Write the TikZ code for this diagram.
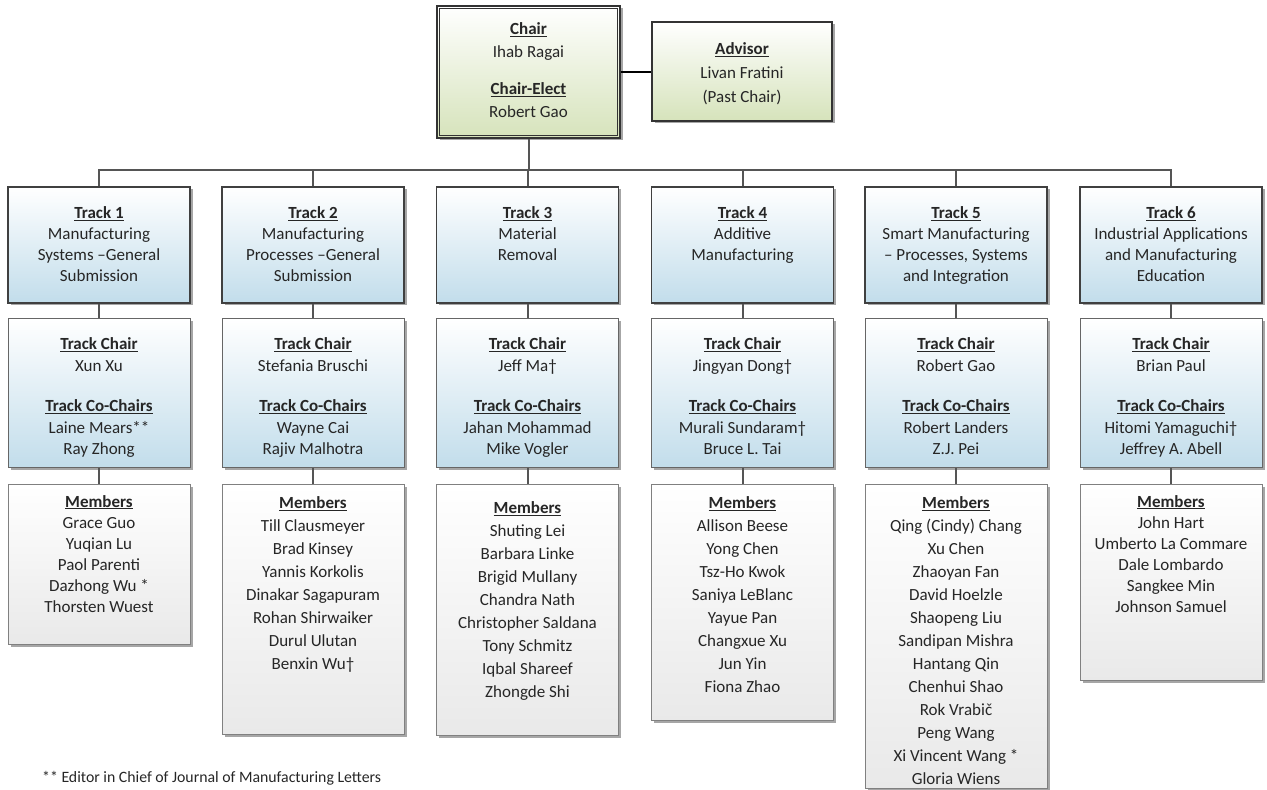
\documentclass[tikz,border=0pt]{standalone}
\usepackage{fontspec}
\setmainfont{Carlito}
\usetikzlibrary{shadows}

\definecolor{linegray}{HTML}{555555}
\definecolor{textgray}{HTML}{262626}
\definecolor{trackblue}{RGB}{194,221,235}
\definecolor{chairgreen}{RGB}{214,227,187}
\definecolor{memgray}{RGB}{233,233,233}

% underlined bold heading
\newcommand{\head}[1]{\leavevmode{\bfseries\setbox0\hbox{#1}\rlap{\rule[-2.2pt]{\wd0}{1.1pt}}\box0}}
% box text: height, top pad, line skip, lines
\newcommand{\cell}[4]{\parbox[c][#1pt][t]{178pt}{\centering\fontsize{17}{#3}\selectfont\vspace*{#2pt}\strut#4\par}}

\tikzset{
    box/.style={anchor=north, inner sep=0pt, minimum width=182pt, text=textgray,
        drop shadow={shadow xshift=2.5pt, shadow yshift=-2.5pt, fill=black, opacity=0.35}},
    headbox/.style={box, draw=black!80, line width=1.5pt, top color=white, bottom color=chairgreen},
    trackbox/.style={box, draw=black!75, line width=1.5pt, top color=white, bottom color=trackblue},
    leadbox/.style={box, draw=black!60, line width=1pt, top color=white, bottom color=trackblue},
    membox/.style={box, draw=black!50, line width=1pt, top color=white, bottom color=memgray},
    link/.style={draw=linegray, line width=2pt}
}

\begin{document}
\begin{tikzpicture}[x=1pt, y=-1pt]
\useasboundingbox (0,0) rectangle (1267,790);

% Draw chair and advisor.
\node[headbox, minimum width=183pt] (chair) at (528.5,5)
    {\cell{132}{13}{23}{\head{Chair}\\Ihab Ragai\\[14pt]\head{Chair-Elect}\\Robert Gao}};
\draw[black!80, line width=1pt] ([xshift=3.5pt,yshift=-3.5pt]chair.north west)
    rectangle ([xshift=-3.5pt,yshift=3.5pt]chair.south east);
\node[headbox, minimum width=180pt] (advisor) at (742,21)
    {\cell{99}{16}{24}{\head{Advisor}\\Livan Fratini\\(Past Chair)}};

% Draw tracks.
\node[trackbox] (t1) at (99,186)
    {\cell{116}{17}{21}{\head{Track 1}\\Manufacturing\\Systems –General\\Submission}};
\node[trackbox] (t2) at (313,186)
    {\cell{116}{17}{21}{\head{Track 2}\\Manufacturing\\Processes –General\\Submission}};
\node[trackbox] (t3) at (527.5,186)
    {\cell{116}{17}{21}{\head{Track 3}\\Material\\Removal}};
\node[trackbox] (t4) at (742.5,186)
    {\cell{116}{17}{21}{\head{Track 4}\\Additive\\Manufacturing}};
\node[trackbox] (t5) at (956,186)
    {\cell{116}{17}{21}{\head{Track 5}\\Smart Manufacturing\\– Processes, Systems\\and Integration}};
\node[trackbox] (t6) at (1171,186)
    {\cell{116}{17}{21}{\head{Track 6}\\Industrial Applications\\and Manufacturing\\Education}};

% Draw track chairs.
\node[leadbox] (c1) at (99,318)
    {\cell{149}{16}{21.5}{\head{Track Chair}\\Xun Xu\\[19pt]\head{Track Co-Chairs}\\Laine Mears**\\Ray Zhong}};
\node[leadbox] (c2) at (313,318)
    {\cell{149}{16}{21.5}{\head{Track Chair}\\Stefania Bruschi\\[19pt]\head{Track Co-Chairs}\\Wayne Cai\\Rajiv Malhotra}};
\node[leadbox] (c3) at (527.5,318)
    {\cell{149}{16}{21.5}{\head{Track Chair}\\Jeff Ma†\\[19pt]\head{Track Co-Chairs}\\Jahan Mohammad\\Mike Vogler}};
\node[leadbox] (c4) at (742.5,318)
    {\cell{149}{16}{21.5}{\head{Track Chair}\\Jingyan Dong†\\[19pt]\head{Track Co-Chairs}\\Murali Sundaram†\\Bruce L. Tai}};
\node[leadbox] (c5) at (956,318)
    {\cell{149}{16}{21.5}{\head{Track Chair}\\Robert Gao\\[19pt]\head{Track Co-Chairs}\\Robert Landers\\Z.J. Pei}};
\node[leadbox] (c6) at (1171,318)
    {\cell{149}{16}{21.5}{\head{Track Chair}\\Brian Paul\\[19pt]\head{Track Co-Chairs}\\Hitomi Yamaguchi†\\Jeffrey A. Abell}};

% Draw members.
\node[membox] (m1) at (99,484)
    {\cell{160}{8}{21}{\head{Members}\\Grace Guo\\Yuqian Lu\\Paol Parenti\\Dazhong Wu *\\Thorsten Wuest}};
\node[membox] (m2) at (313,484)
    {\cell{250}{8}{23}{\head{Members}\\Till Clausmeyer\\Brad Kinsey\\Yannis Korkolis\\Dinakar Sagapuram\\Rohan Shirwaiker\\Durul Ulutan\\Benxin Wu†}};
\node[membox] (m3) at (527.5,484)
    {\cell{251}{13}{23}{\head{Members}\\Shuting Lei\\Barbara Linke\\Brigid Mullany\\Chandra Nath\\Christopher Saldana\\Tony Schmitz\\Iqbal Shareef\\Zhongde Shi}};
\node[membox] (m4) at (742.5,484)
    {\cell{236}{8}{23}{\head{Members}\\Allison Beese\\Yong Chen\\Tsz-Ho Kwok\\Saniya LeBlanc\\Yayue Pan\\Changxue Xu\\Jun Yin\\Fiona Zhao}};
\node[membox] (m5) at (956,484)
    {\cell{304}{8}{23}{\head{Members}\\Qing (Cindy) Chang\\Xu Chen\\Zhaoyan Fan\\David Hoelzle\\Shaopeng Liu\\Sandipan Mishra\\Hantang Qin\\Chenhui Shao\\Rok Vrabič\\Peng Wang\\Xi Vincent Wang *\\Gloria Wiens}};
\node[membox] (m6) at (1171,484)
    {\cell{196}{8}{21}{\head{Members}\\John Hart\\Umberto La Commare\\Dale Lombardo\\Sangkee Min\\Johnson Samuel}};

% Footnote.
\node[anchor=west, inner sep=0pt, text=textgray, font=\fontsize{15.8}{18}\selectfont] (note) at (42,778)
    {** Editor in Chief of Journal of Manufacturing Letters};

% Draw connectors.
\coordinate (bus) at (0,170);
\draw[black, line width=2.5pt] (chair.east) -- (chair.east -| advisor.west);
\draw[link] (chair.south) -- (chair.south |- bus);
\draw[link] (t1.north) |- (t6.north |- bus) -- (t6.north);
\foreach \i in {1, ..., 6}
{
    \draw[link] (t\i.north |- bus) -- (t\i.north);
    \draw[link] (t\i) -- (c\i);
    \draw[link] (c\i) -- (m\i);
}

\end{tikzpicture}
\end{document}
